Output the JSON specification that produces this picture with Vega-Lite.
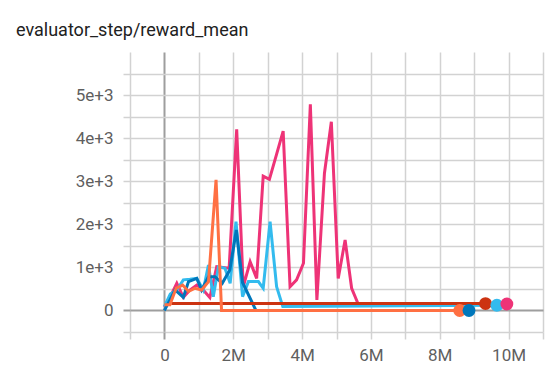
{
  "$schema": "https://vega.github.io/schema/vega-lite/v6.json",
  "width": 413,
  "height": 280,
  "autosize": {"type": "none"},
  "padding": {"left": 130, "top": 52, "right": 17, "bottom": 42},
  "background": "white",
  "title": {
    "text": "evaluator_step/reward_mean",
    "anchor": "start",
    "frame": "group",
    "dx": -114,
    "offset": -2,
    "baseline": "alphabetic",
    "font": "Roboto",
    "fontSize": 18,
    "fontWeight": "normal",
    "color": "#212121"
  },
  "config": {
    "view": {"stroke": null},
    "axis": {
      "domain": false,
      "grid": true,
      "gridColor": {"condition": {"test": "datum.value === 0", "value": "#9e9e9e"}, "value": "#d2d2d2"},
      "gridWidth": {"condition": {"test": "datum.value === 0", "value": 2}, "value": 1.5},
      "tickColor": {"condition": {"test": "datum.value === 0", "value": "#9e9e9e"}, "value": "#d2d2d2"},
      "tickWidth": {"condition": {"test": "datum.value === 0", "value": 2}, "value": 1.5},
      "tickSize": 7,
      "labelFont": "Roboto",
      "labelFontSize": 17,
      "labelColor": "#5f5f5f",
      "labelOverlap": false,
      "labelFlush": false,
      "title": null
    }
  },
  "data": {
    "values": [
      {"run": "run1", "step": 0, "value": 80},
      {"run": "run1", "step": 190000, "value": 350},
      {"run": "run1", "step": 360000, "value": 630},
      {"run": "run1", "step": 550000, "value": 305},
      {"run": "run1", "step": 740000, "value": 475},
      {"run": "run1", "step": 940000, "value": 590},
      {"run": "run1", "step": 1130000, "value": 475},
      {"run": "run1", "step": 1320000, "value": 300},
      {"run": "run1", "step": 1520000, "value": 1015},
      {"run": "run1", "step": 1700000, "value": 1000},
      {"run": "run1", "step": 1880000, "value": 980},
      {"run": "run1", "step": 2100000, "value": 4205},
      {"run": "run1", "step": 2290000, "value": 550},
      {"run": "run1", "step": 2490000, "value": 1130},
      {"run": "run1", "step": 2680000, "value": 745},
      {"run": "run1", "step": 2870000, "value": 3120},
      {"run": "run1", "step": 3050000, "value": 3045},
      {"run": "run1", "step": 3250000, "value": 3600},
      {"run": "run1", "step": 3450000, "value": 4165},
      {"run": "run1", "step": 3650000, "value": 550},
      {"run": "run1", "step": 3840000, "value": 710},
      {"run": "run1", "step": 4040000, "value": 1095},
      {"run": "run1", "step": 4240000, "value": 4785},
      {"run": "run1", "step": 4430000, "value": 245},
      {"run": "run1", "step": 4650000, "value": 3185},
      {"run": "run1", "step": 4850000, "value": 4380},
      {"run": "run1", "step": 5050000, "value": 745},
      {"run": "run1", "step": 5250000, "value": 1635},
      {"run": "run1", "step": 5440000, "value": 515},
      {"run": "run1", "step": 5630000, "value": 150},
      {"run": "run1", "step": 9950000, "value": 150},
      {"run": "run2", "step": 0, "value": 90},
      {"run": "run2", "step": 170000, "value": 380},
      {"run": "run2", "step": 360000, "value": 475},
      {"run": "run2", "step": 550000, "value": 710},
      {"run": "run2", "step": 740000, "value": 725},
      {"run": "run2", "step": 940000, "value": 745},
      {"run": "run2", "step": 1130000, "value": 475},
      {"run": "run2", "step": 1280000, "value": 1055},
      {"run": "run2", "step": 1420000, "value": 320},
      {"run": "run2", "step": 1570000, "value": 1015},
      {"run": "run2", "step": 1760000, "value": 980},
      {"run": "run2", "step": 1910000, "value": 630},
      {"run": "run2", "step": 2080000, "value": 2060},
      {"run": "run2", "step": 2270000, "value": 320},
      {"run": "run2", "step": 2440000, "value": 670},
      {"run": "run2", "step": 2600000, "value": 670},
      {"run": "run2", "step": 2730000, "value": 670},
      {"run": "run2", "step": 2870000, "value": 515},
      {"run": "run2", "step": 3070000, "value": 2060},
      {"run": "run2", "step": 3260000, "value": 550},
      {"run": "run2", "step": 3440000, "value": 90},
      {"run": "run2", "step": 9660000, "value": 120},
      {"run": "run3", "step": 0, "value": 0},
      {"run": "run3", "step": 160000, "value": 245},
      {"run": "run3", "step": 310000, "value": 475},
      {"run": "run3", "step": 550000, "value": 305},
      {"run": "run3", "step": 700000, "value": 670},
      {"run": "run3", "step": 940000, "value": 745},
      {"run": "run3", "step": 1080000, "value": 475},
      {"run": "run3", "step": 1280000, "value": 785},
      {"run": "run3", "step": 1470000, "value": 785},
      {"run": "run3", "step": 1680000, "value": 630},
      {"run": "run3", "step": 1900000, "value": 940},
      {"run": "run3", "step": 2090000, "value": 1870},
      {"run": "run3", "step": 2270000, "value": 650},
      {"run": "run3", "step": 2660000, "value": 0},
      {"run": "run3", "step": 8850000, "value": 0},
      {"run": "run4", "step": 200000, "value": 160},
      {"run": "run4", "step": 9330000, "value": 160},
      {"run": "run5", "step": 0, "value": 130},
      {"run": "run5", "step": 160000, "value": 130},
      {"run": "run5", "step": 340000, "value": 515},
      {"run": "run5", "step": 530000, "value": 590},
      {"run": "run5", "step": 700000, "value": 440},
      {"run": "run5", "step": 890000, "value": 515},
      {"run": "run5", "step": 1080000, "value": 475},
      {"run": "run5", "step": 1280000, "value": 670},
      {"run": "run5", "step": 1500000, "value": 3030},
      {"run": "run5", "step": 1660000, "value": 0},
      {"run": "run5", "step": 8580000, "value": 0}
    ]
  },
  "encoding": {
    "x": {
      "field": "step",
      "type": "quantitative",
      "scale": {"domain": [-1000000, 11000000], "nice": false, "zero": false},
      "axis": {
        "values": [-1000000, 0, 1000000, 2000000, 3000000, 4000000, 5000000, 6000000, 7000000, 8000000, 9000000, 10000000, 11000000],
        "labelExpr": "(datum.value >= 0 && datum.value <= 10000000 && datum.value % 2000000 === 0) ? (datum.value === 0 ? '0' : (datum.value / 1000000) + 'M') : ''",
        "labelPadding": 8
      }
    },
    "y": {
      "field": "value",
      "type": "quantitative",
      "scale": {"domain": [-500, 6000], "nice": false, "zero": false},
      "axis": {
        "values": [-500, 0, 500, 1000, 1500, 2000, 2500, 3000, 3500, 4000, 4500, 5000, 5500],
        "labelExpr": "(datum.value >= 0 && datum.value % 1000 === 0) ? (datum.value === 0 ? '0' : (datum.value / 1000) + 'e+3') : ''",
        "labelPadding": 10
      }
    },
    "color": {
      "field": "run",
      "type": "nominal",
      "scale": {
        "domain": ["run1", "run2", "run3", "run4", "run5"],
        "range": ["#ee3377", "#33bbee", "#0077bb", "#cc3311", "#ff7043"]
      },
      "legend": null
    }
  },
  "layer": [
    {
      "mark": {"type": "line", "strokeWidth": 3, "clip": true},
      "encoding": {"order": {"field": "step"}}
    },
    {
      "transform": [
        {"joinaggregate": [{"op": "max", "field": "step", "as": "laststep"}], "groupby": ["run"]},
        {"filter": "datum.step === datum.laststep"}
      ],
      "mark": {"type": "circle", "size": 165, "opacity": 1},
      "encoding": {"order": {"field": "step", "sort": "ascending"}}
    }
  ]
}
